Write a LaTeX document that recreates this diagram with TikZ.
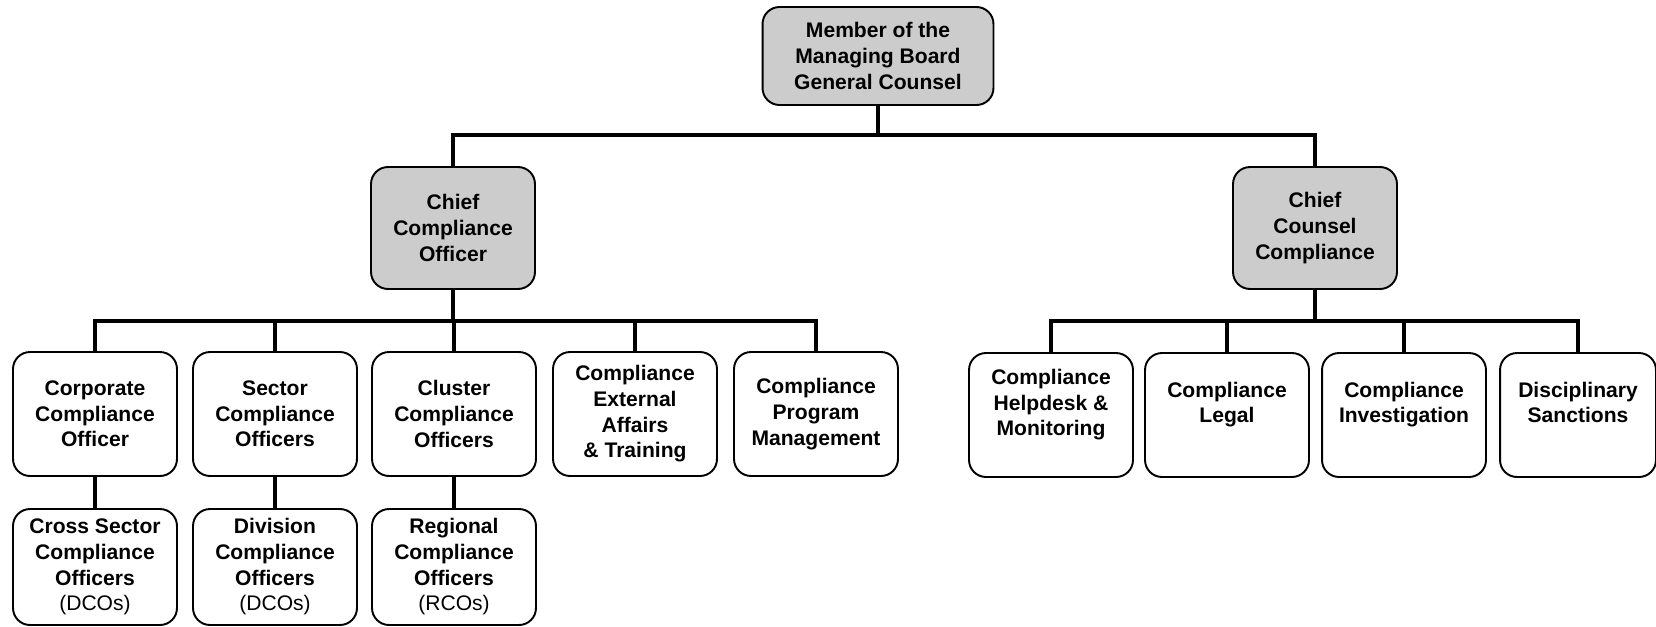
\documentclass[tikz,border=0pt]{standalone}
\usepackage{fontspec}
\setmainfont{Liberation Sans}
\usetikzlibrary{arrows,shapes}

\begin{document}
\begin{tikzpicture}[x=0.02cm,y=-0.02cm,
        box/.style={draw,rounded corners=0.34cm,line width=1.1pt,fill=white,minimum width=3.28cm,minimum height=2.48cm,align=center,font=\fontsize{12}{14.6}\selectfont\bfseries},
        head/.style={box,fill=black!20,minimum height=2.44cm},
        sub/.style={box,minimum height=2.32cm},
        raised/.style={text depth=0.5cm},
        link/.style={line width=2.2pt}]
        \useasboundingbox (0,0) rectangle (1656,626);

        \node[head,minimum width=4.62cm,minimum height=1.96cm] (board) at (878,56) {Member of the\\Managing Board\\General Counsel};

        \node[head] (cco) at (453,228) {Chief\\Compliance\\Officer};
        \node[head] (ccc) at (1315,228) {Chief\\Counsel\\Compliance};

        \node[box] (corp) at (95,414) {Corporate\\Compliance\\Officer};
        \node[box] (sect) at (275,414) {Sector\\Compliance\\Officers};
        \node[box] (clus) at (454,414) {Cluster\\Compliance\\Officers};
        \node[box] (ext) at (635,414) {Compliance\\External\\Affairs\\\& Training};
        \node[box] (prog) at (816,414) {Compliance\\Program\\Management};

        \node[box,raised] (help) at (1051,415) {Compliance\\Helpdesk \&\\Monitoring};
        \node[box,raised] (legal) at (1227,415) {Compliance\\Legal};
        \node[box,raised] (inv) at (1404,415) {Compliance\\Investigation};
        \node[box,raised,minimum width=3.12cm] (disc) at (1578,415) {Disciplinary\\Sanctions};

        \node[sub] (xsec) at (95,567) {Cross Sector\\Compliance\\Officers\\\mdseries(DCOs)};
        \node[sub] (div) at (275,567) {Division\\Compliance\\Officers\\\mdseries(DCOs)};
        \node[sub] (reg) at (454,567) {Regional\\Compliance\\Officers\\\mdseries(RCOs)};

        \coordinate (topbus) at (878,135);
        \coordinate (lbus) at (453,321);
        \coordinate (rbus) at (1315,321);

        \draw[link] (board.south) -- (topbus);
        \draw[link] (cco.north) |- (topbus) -| (ccc.north);
        \draw[link] (cco.south) -- (lbus);
        \draw[link] (ccc.south) -- (rbus);
        \foreach \n in {corp,sect,clus,ext,prog}
            \draw[link] (lbus) -| (\n.north);
        \foreach \n in {help,legal,inv,disc}
            \draw[link] (rbus) -| (\n.north);

        \draw[link] (corp.south) -- (xsec.north);
        \draw[link] (sect.south) -- (div.north);
        \draw[link] (clus.south) -- (reg.north);
    \end{tikzpicture}
\end{document}
